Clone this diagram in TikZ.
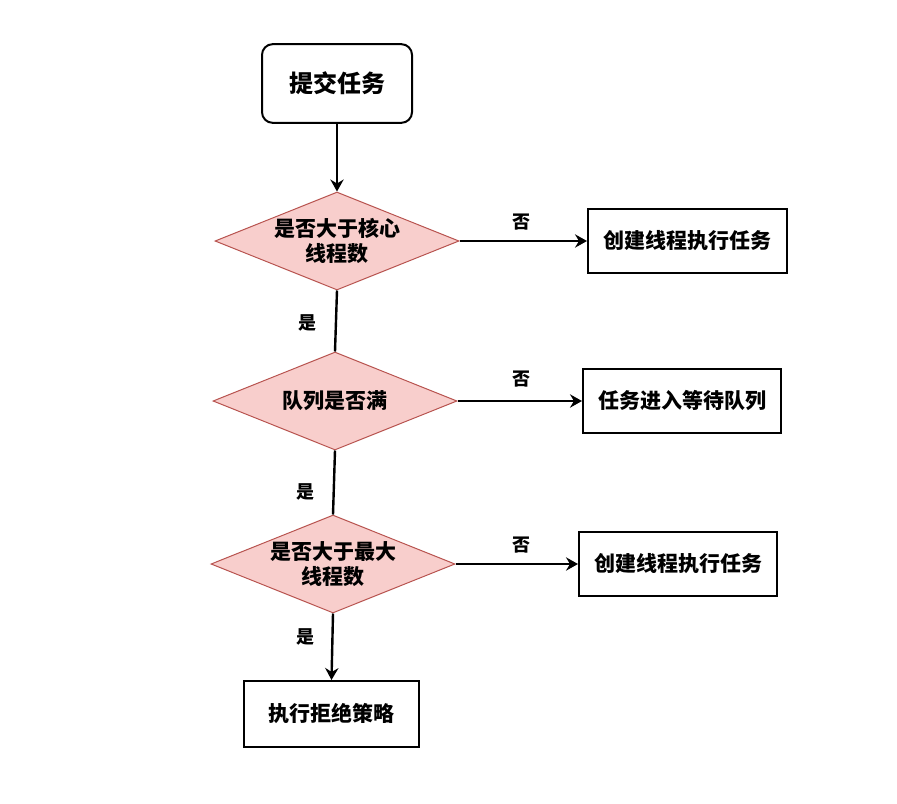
\documentclass[tikz,border=0pt]{standalone}
\usepackage{fontspec}
\setmainfont{Noto Sans CJK SC}
\usepackage{xcolor}
\usepackage{tikz}
\usetikzlibrary{arrows.meta,shapes.geometric}
\definecolor{flowPink}{HTML}{F8CECC}
\definecolor{flowRed}{HTML}{B85450}

\begin{document}
\begin{tikzpicture}[x=0.75pt,y=-0.75pt,
  taskbox/.style={draw=black, line width=1.5pt, minimum width=#1*0.75pt, minimum height=48pt, inner sep=0pt,
    font=\bfseries\fontsize{15.75}{18.75}\selectfont},
  decision/.style={diamond, draw=flowRed, fill=flowPink, line width=0.75pt, shape aspect=2.5, inner sep=0pt,
    minimum width=183pt, minimum height=73.5pt, align=center, font=\bfseries\fontsize{15.75}{18.75}\selectfont},
  answer/.style={font=\bfseries\fontsize{13.5}{16}\selectfont},
  flow/.style={line width=1.8pt, -{Stealth[length=9pt,width=10pt,inset=3pt]}}]
\useasboundingbox (0,0) rectangle (897,804);

\node[draw=black, line width=1.5pt, rounded corners=8pt, minimum width=112.5pt, minimum height=59pt,
  font=\bfseries\fontsize{18}{22}\selectfont] (start) at (337,83.5) {提交任务};

\node[decision] (core) at (337,241) {是否大于核心\\线程数};
\node[decision] (queue) at (335,401) {队列是否满};
\node[decision] (maxi) at (333,564) {是否大于最大\\线程数};

\node[taskbox=199] (create1) at (687.5,241) {创建线程执行任务};
\node[taskbox=198] (wait) at (682,401) {任务进入等待队列};
\node[taskbox=198] (create2) at (678,564) {创建线程执行任务};
\node[taskbox=175, minimum height=49.5pt] (reject) at (331.5,714) {执行拒绝策略};

\draw[flow] (start) -- (core);
\draw[flow] (core.east) -- (create1.west);
\draw[flow] (queue.east) -- (wait.west);
\draw[flow] (maxi.east) -- (create2.west);
\draw[line width=1.8pt] (core.south) -- (queue.north);
\draw[line width=1.8pt] (queue.south) -- (maxi.north);
\draw[flow] (maxi.south) -- (reject.north);

% yes / no labels
\node[answer] (no1) at (521,222) {否};
\node[answer] (no2) at (521,379) {否};
\node[answer] (no3) at (521,545) {否};
\node[answer] (yes1) at (307,323) {是};
\node[answer] (yes2) at (305,492) {是};
\node[answer] (yes3) at (305,637) {是};
\end{tikzpicture}
\end{document}
